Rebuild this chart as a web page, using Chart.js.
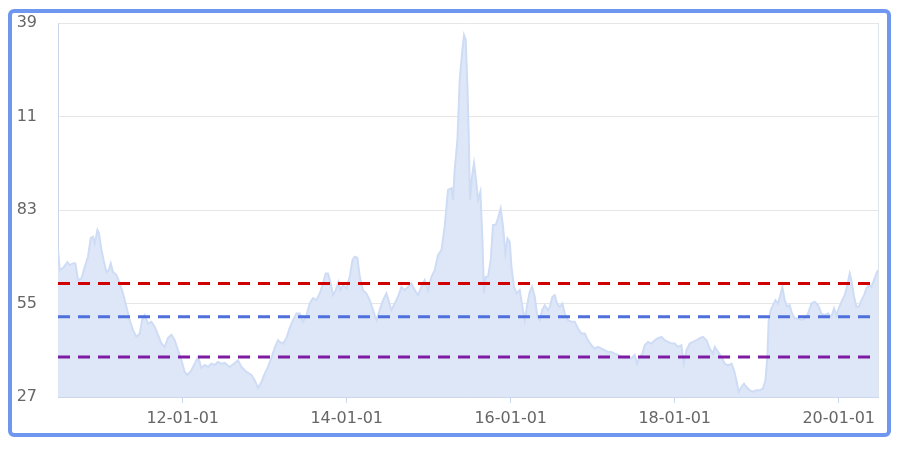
<!DOCTYPE html>
<html>
<head>
<meta charset="utf-8">
<script src="https://cdn.jsdelivr.net/npm/chart.js@4.4.1/dist/chart.umd.min.js"></script>
<style>
  html, body { margin: 0; padding: 0; background: #fff; }
  #frame {
    position: absolute; left: 8px; top: 9px; width: 875px; height: 420px;
    border: 4px solid #7097f0; border-radius: 6px; overflow: hidden; background: #fff;
  }
  #wrap { position: absolute; left: 4px; top: -13px; width: 884px; height: 450px; }
</style>
</head>
<body>
<div id="frame"><div id="wrap"><canvas id="chart" width="884" height="450"></canvas></div></div>
<script>
// series, x as decimal year
const years = [
  2010.479, 2010.500, 2010.540, 2010.594, 2010.622, 2010.662, 2010.691, 2010.723, 2010.765, 2010.805,
  2010.845, 2010.878, 2010.906, 2010.927, 2010.960, 2010.979, 2011.009, 2011.040, 2011.070, 2011.098,
  2011.122, 2011.150, 2011.191, 2011.232, 2011.272, 2011.313, 2011.354, 2011.394, 2011.435, 2011.476,
  2011.504, 2011.537, 2011.577, 2011.618, 2011.659, 2011.699, 2011.740, 2011.780, 2011.821, 2011.862,
  2011.902, 2011.943, 2011.984, 2012.024, 2012.057, 2012.106, 2012.146, 2012.187, 2012.228, 2012.268,
  2012.309, 2012.350, 2012.390, 2012.430, 2012.472,
  2012.512, 2012.573, 2012.634, 2012.674, 2012.716, 2012.777, 2012.838, 2012.878, 2012.918, 2012.960,
  2013.000, 2013.040, 2013.082, 2013.122, 2013.162, 2013.183, 2013.223, 2013.265, 2013.305, 2013.345,
  2013.387, 2013.427, 2013.467, 2013.509, 2013.549, 2013.589, 2013.630, 2013.671, 2013.711, 2013.744,
  2013.772, 2013.805, 2013.833, 2013.866, 2013.899, 2013.923, 2013.955, 2013.996, 2014.037, 2014.070,
  2014.098, 2014.130, 2014.159, 2014.199, 2014.240, 2014.280, 2014.321, 2014.362, 2014.402, 2014.443,
  2014.484,
  2014.504, 2014.545, 2014.585, 2014.626, 2014.667, 2014.707, 2014.748, 2014.789, 2014.829, 2014.870,
  2014.911, 2014.951, 2014.991, 2015.033, 2015.073, 2015.113, 2015.155, 2015.195, 2015.235, 2015.277,
  2015.296, 2015.317, 2015.350, 2015.378, 2015.406, 2015.430, 2015.451, 2015.472, 2015.488, 2015.504,
  2015.528, 2015.552, 2015.577, 2015.601, 2015.630, 2015.655, 2015.674, 2015.695, 2015.723, 2015.756,
  2015.784, 2015.817, 2015.845, 2015.878, 2015.906, 2015.935, 2015.960, 2015.988, 2016.009, 2016.040,
  2016.070, 2016.110, 2016.143, 2016.171, 2016.204, 2016.232, 2016.260, 2016.293, 2016.326, 2016.354,
  2016.382, 2016.415, 2016.455,
  2016.476, 2016.509, 2016.537, 2016.565, 2016.598, 2016.630, 2016.659, 2016.699, 2016.740, 2016.780,
  2016.821, 2016.862, 2016.902, 2016.943, 2016.984, 2017.024, 2017.065, 2017.106, 2017.146, 2017.187,
  2017.228, 2017.268, 2017.309, 2017.350, 2017.390, 2017.430, 2017.472, 2017.512, 2017.540, 2017.573,
  2017.606, 2017.634, 2017.674, 2017.716, 2017.756, 2017.796, 2017.838, 2017.878, 2017.918, 2017.960,
  2018.000, 2018.040, 2018.082, 2018.110, 2018.143, 2018.183, 2018.223, 2018.265, 2018.305, 2018.345,
  2018.387, 2018.427, 2018.467,
  2018.488, 2018.528, 2018.570, 2018.610, 2018.650, 2018.692, 2018.723, 2018.752, 2018.780, 2018.813,
  2018.845, 2018.874, 2018.915, 2018.955, 2018.996, 2019.037, 2019.077, 2019.106, 2019.130, 2019.146,
  2019.171, 2019.199, 2019.228, 2019.260, 2019.293, 2019.313, 2019.341, 2019.374, 2019.402, 2019.430,
  2019.463, 2019.504, 2019.545, 2019.585, 2019.626, 2019.667, 2019.707, 2019.748, 2019.789, 2019.829,
  2019.870, 2019.911, 2019.943, 2019.972, 2020.000, 2020.033, 2020.073, 2020.106, 2020.134, 2020.155,
  2020.187, 2020.216, 2020.244, 2020.277, 2020.309, 2020.338, 2020.366, 2020.399, 2020.430, 2020.460,
  2020.479
];
const values = [
  71, 65, 65.6, 67.4, 66.5, 67, 67, 62, 62.5, 66,
  69, 74.6, 75, 73, 77, 76, 71, 67.4, 64.4, 65,
  67, 64.4, 63.5, 61, 58, 54, 50, 47, 45, 46,
  50, 51.5, 49, 49.5, 48, 45.6, 43, 42, 44.7, 45.6,
  44, 41, 38, 34.5, 33.6, 35, 37, 39, 35.7, 36.6,
  36, 37, 36.6, 37.5, 37,
  37.2, 36, 37.2, 38, 36, 34.5, 33.6, 32, 29.7, 31.5,
  34, 36, 38.7, 41.7, 44, 43.5, 43, 44.7, 47.7, 50,
  52, 52, 49.5, 51.5, 55, 56.6, 56, 58, 61, 64,
  64, 61, 57.5, 59, 61.4, 59, 60.5, 59.5, 63, 68,
  69, 68.7, 63, 59, 58, 56, 53, 50, 53, 56,
  58,
  56.5, 53, 55, 57, 60, 59, 60, 61, 59, 57.5,
  60, 62, 59, 63, 65, 69.5, 71, 78, 89, 89.5,
  86, 95, 104, 122, 130, 135.4, 134, 120, 105, 86,
  93, 97, 92, 86, 88.5, 74, 58, 63, 63, 68,
  78.5, 78.5, 80.5, 83.5, 78, 70, 74.5, 73.5, 66, 60,
  58, 59, 54, 50, 55, 58.5, 60, 57, 51, 50,
  53, 54.5, 53,
  54, 57, 57.5, 55, 54, 55, 52, 50, 49.5, 49.5,
  47.5, 46, 46, 44, 42.5, 41.5, 42, 41.5, 41, 40.5,
  40.5, 40, 39.6, 39, 38.6, 39, 38.6, 39.6, 37, 39,
  40, 42.5, 43.5, 43, 44, 44.6, 45, 44, 43.5, 43,
  43, 42, 42.5, 37, 41, 43, 43.5, 44, 44.6, 45,
  44, 41.5, 40,
  42, 40.5, 39, 37, 36.5, 37, 35, 32, 28.6, 30,
  31, 30, 29, 28.6, 29, 29, 29.6, 32, 39, 50,
  53, 54.5, 56, 55, 58, 60, 56, 54, 54.5, 52,
  50.5, 50.5, 50, 50.5, 52, 55, 55.5, 54.5, 52, 51.5,
  52, 51, 53.5, 51.5, 53.5, 55.5, 57.5, 60.5, 64, 62,
  57, 54, 54, 56, 57.5, 59.5, 60.5, 60, 62, 64,
  65
];

// reference levels
const redLevel = 61;
const blueLevel = 51;
const purpleLevel = 39;

// axes
const tickYears = [2012, 2014, 2016, 2018, 2020];
const xTickLabels = ['12-01-01', '14-01-01', '16-01-01', '18-01-01', '20-01-01'];
const yMin = 27, yMax = 139, yStep = 28;

const xStart = years[0];
const xEnd = years[years.length - 1];
const levelLine = (level, color) => ({
  data: [{ x: xStart, y: level }, { x: xEnd, y: level }],
  borderColor: color,
  borderWidth: 3,
  borderDash: [12, 8],
  pointRadius: 0,
  fill: false,
  order: 0,
});

// thin line on the right edge of the plot
const rightEdge = {
  id: 'rightEdge',
  afterDraw(chart) {
    const { ctx, chartArea: a } = chart;
    ctx.save();
    ctx.strokeStyle = '#dfe4ec';
    ctx.lineWidth = 1;
    ctx.beginPath();
    ctx.moveTo(a.right + 0.5, a.top);
    ctx.lineTo(a.right + 0.5, a.bottom);
    ctx.stroke();
    ctx.restore();
  }
};

const tickFont = { family: 'DejaVu Sans', size: 16 };

new Chart(document.getElementById('chart'), {
  type: 'line',
  data: {
    datasets: [
      levelLine(redLevel, '#d10000'),
      levelLine(blueLevel, '#4f6fdc'),
      levelLine(purpleLevel, '#7d1ba3'),
      {
        data: years.map((x, i) => ({ x, y: values[i] })),
        fill: 'start',
        backgroundColor: '#dee7f8',
        borderColor: '#cfdcf5',
        borderWidth: 2,
        pointRadius: 0,
        tension: 0,
        order: 1,
      },
    ],
  },
  options: {
    responsive: false,
    animation: false,
    devicePixelRatio: 1,
    layout: { padding: { top: 23, right: 22, left: 0, bottom: 0 } },
    plugins: { legend: { display: false }, tooltip: { enabled: false } },
    scales: {
      x: {
        type: 'linear',
        min: xStart,
        max: xEnd,
        afterBuildTicks: s => { s.ticks = tickYears.map(v => ({ value: v })); },
        afterFit: s => { s.height = 53; },
        ticks: {
          color: '#666',
          font: tickFont,
          padding: 6,
          maxRotation: 0,
          autoSkip: false,
          callback: v => xTickLabels[tickYears.indexOf(v)],
        },
        grid: { drawOnChartArea: false, tickLength: 6, color: '#ccd6eb' },
        border: { color: '#ccd6eb' },
      },
      y: {
        min: yMin,
        max: yMax,
        // fixed width; the tick padding should not push the plot down
        afterFit: s => { s.width = 42; s.paddingTop = 0; s.paddingBottom = 0; },
        ticks: { stepSize: yStep, color: '#666', font: tickFont, padding: 21 },
        grid: { color: '#e6e6e6', drawTicks: false },
        border: { color: '#ccd6eb' },
      },
    },
  },
  plugins: [rightEdge],
});
</script>
</body>
</html>
